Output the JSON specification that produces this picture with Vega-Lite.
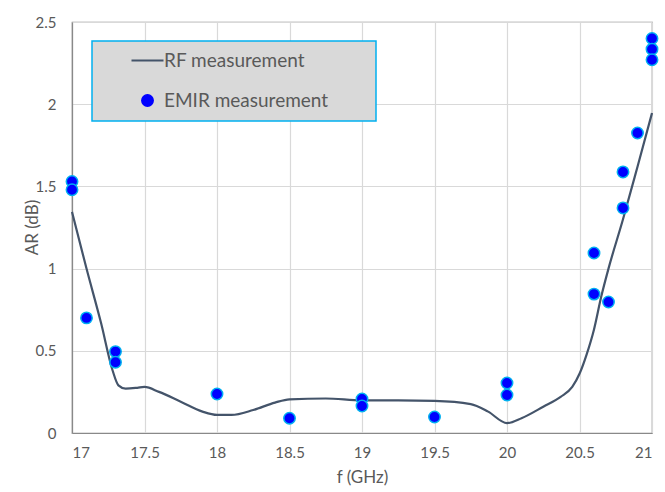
{
  "$schema": "https://vega.github.io/schema/vega-lite/v6.json",
  "width": 580,
  "height": 411,
  "autosize": {"type": "none"},
  "padding": {"left": 72, "top": 22, "right": 13, "bottom": 59},
  "background": "white",
  "config": {
    "font": "Lato",
    "view": {"stroke": "#898989", "strokeWidth": 1.2},
    "axis": {
      "labelColor": "#595959",
      "titleColor": "#595959",
      "labelFontSize": 15,
      "titleFontSize": 17,
      "titleFontWeight": "normal",
      "gridColor": "#d9d9d9",
      "gridWidth": 1.2,
      "domainColor": "#898989",
      "domainWidth": 1.2,
      "ticks": false
    }
  },
  "datasets": {
    "rf": [
      {"f": 17.0, "ar": 1.345, "series": "RF measurement"},
      {"f": 17.1, "ar": 1.0, "series": "RF measurement"},
      {"f": 17.2, "ar": 0.67, "series": "RF measurement"},
      {"f": 17.28, "ar": 0.38, "series": "RF measurement"},
      {"f": 17.32, "ar": 0.29, "series": "RF measurement"},
      {"f": 17.37, "ar": 0.27, "series": "RF measurement"},
      {"f": 17.45, "ar": 0.275, "series": "RF measurement"},
      {"f": 17.5, "ar": 0.28, "series": "RF measurement"},
      {"f": 17.6, "ar": 0.25, "series": "RF measurement"},
      {"f": 17.75, "ar": 0.19, "series": "RF measurement"},
      {"f": 17.9, "ar": 0.13, "series": "RF measurement"},
      {"f": 18.0, "ar": 0.11, "series": "RF measurement"},
      {"f": 18.1, "ar": 0.11, "series": "RF measurement"},
      {"f": 18.25, "ar": 0.14, "series": "RF measurement"},
      {"f": 18.4, "ar": 0.185, "series": "RF measurement"},
      {"f": 18.5, "ar": 0.205, "series": "RF measurement"},
      {"f": 18.75, "ar": 0.21, "series": "RF measurement"},
      {"f": 19.0, "ar": 0.198, "series": "RF measurement"},
      {"f": 19.25, "ar": 0.198, "series": "RF measurement"},
      {"f": 19.5, "ar": 0.195, "series": "RF measurement"},
      {"f": 19.75, "ar": 0.176, "series": "RF measurement"},
      {"f": 19.87, "ar": 0.13, "series": "RF measurement"},
      {"f": 20.0, "ar": 0.06, "series": "RF measurement"},
      {"f": 20.1, "ar": 0.09, "series": "RF measurement"},
      {"f": 20.25, "ar": 0.16, "series": "RF measurement"},
      {"f": 20.37, "ar": 0.22, "series": "RF measurement"},
      {"f": 20.45, "ar": 0.28, "series": "RF measurement"},
      {"f": 20.5, "ar": 0.36, "series": "RF measurement"},
      {"f": 20.55, "ar": 0.48, "series": "RF measurement"},
      {"f": 20.6, "ar": 0.63, "series": "RF measurement"},
      {"f": 20.65, "ar": 0.83, "series": "RF measurement"},
      {"f": 20.7, "ar": 1.0, "series": "RF measurement"},
      {"f": 20.8, "ar": 1.3, "series": "RF measurement"},
      {"f": 20.9, "ar": 1.62, "series": "RF measurement"},
      {"f": 21.0, "ar": 1.946, "series": "RF measurement"}
    ],
    "emir": [
      {"f": 17.0, "ar": 1.53, "series": "EMIR measurement"},
      {"f": 17.0, "ar": 1.48, "series": "EMIR measurement"},
      {"f": 17.1, "ar": 0.70, "series": "EMIR measurement"},
      {"f": 17.3, "ar": 0.495, "series": "EMIR measurement"},
      {"f": 17.3, "ar": 0.43, "series": "EMIR measurement"},
      {"f": 18.0, "ar": 0.237, "series": "EMIR measurement"},
      {"f": 18.5, "ar": 0.09, "series": "EMIR measurement"},
      {"f": 19.0, "ar": 0.207, "series": "EMIR measurement"},
      {"f": 19.0, "ar": 0.164, "series": "EMIR measurement"},
      {"f": 19.5, "ar": 0.097, "series": "EMIR measurement"},
      {"f": 20.0, "ar": 0.304, "series": "EMIR measurement"},
      {"f": 20.0, "ar": 0.231, "series": "EMIR measurement"},
      {"f": 20.6, "ar": 1.095, "series": "EMIR measurement"},
      {"f": 20.6, "ar": 0.845, "series": "EMIR measurement"},
      {"f": 20.7, "ar": 0.797, "series": "EMIR measurement"},
      {"f": 20.8, "ar": 1.588, "series": "EMIR measurement"},
      {"f": 20.8, "ar": 1.369, "series": "EMIR measurement"},
      {"f": 20.9, "ar": 1.825, "series": "EMIR measurement"},
      {"f": 21.0, "ar": 2.40, "series": "EMIR measurement"},
      {"f": 21.0, "ar": 2.335, "series": "EMIR measurement"},
      {"f": 21.0, "ar": 2.27, "series": "EMIR measurement"}
    ]
  },
  "encoding": {
    "x": {
      "field": "f", "type": "quantitative",
      "scale": {"domain": [17, 21], "nice": false, "zero": false},
      "axis": {
        "title": "f (GHz)",
        "values": [17, 17.5, 18, 18.5, 19, 19.5, 20, 20.5, 21],
        "format": "~g",
        "labelPadding": 12,
        "titleY": 44,
        "titleBaseline": "middle"
      }
    },
    "y": {
      "field": "ar", "type": "quantitative",
      "scale": {"domain": [0, 2.5], "nice": false},
      "axis": {
        "title": "AR (dB)",
        "values": [0, 0.5, 1, 1.5, 2, 2.5],
        "format": "~g",
        "labelPadding": 16,
        "titleX": -40,
        "titleY": 205,
        "titleAngle": -90,
        "titleAlign": "center",
        "titleBaseline": "middle"
      }
    },
    "color": {
      "field": "series", "type": "nominal",
      "scale": {"domain": ["RF measurement", "EMIR measurement"], "range": ["#44546a", "#0000ff"]},
      "legend": {
        "title": null,
        "orient": "none",
        "legendX": 20,
        "legendY": 19,
        "fillColor": "#d9d9d9",
        "strokeColor": "#00b0f0",
        "padding": 10,
        "symbolOffset": 36,
        "rowPadding": 20,
        "labelFontSize": 19,
        "labelColor": "#595959",
        "labelOffset": 7,
        "labelLimit": 600,
        "symbolSize": 1024,
        "labelExpr": "datum.label + '\u2800\u00a0\u00a0\u2800'",
        "encode": {
          "legend": {
            "update": {"strokeWidth": {"value": 1.5}}
          },
          "symbols": {
            "update": {
              "shape": {"signal": "datum.value === 'RF measurement' ? 'stroke' : 'circle'"},
              "size": {"signal": "datum.value === 'RF measurement' ? 1024 : 130"},
              "fill": {"signal": "datum.value === 'RF measurement' ? 'transparent' : '#0000ff'"},
              "stroke": {"signal": "datum.value === 'RF measurement' ? '#44546a' : '#00b0f0'"},
              "strokeWidth": {"signal": "datum.value === 'RF measurement' ? 2.2 : 1.5"},
              "opacity": {"value": 1}
            }
          }
        }
      }
    }
  },
  "layer": [
    {
      "data": {"name": "rf"},
      "mark": {"type": "line", "interpolate": "monotone", "strokeWidth": 2.2, "color": "#44546a"}
    },
    {
      "data": {"name": "emir"},
      "mark": {"type": "point", "filled": true, "size": 130, "fill": "#0000ff", "stroke": "#00b0f0", "strokeWidth": 1.5, "opacity": 1, "clip": false}
    }
  ]
}
